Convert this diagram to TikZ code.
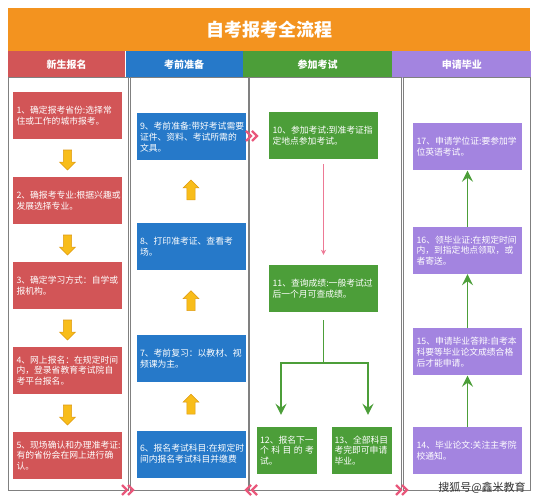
\documentclass[tikz,border=0pt]{standalone}
\usepackage{fontspec}
\setmainfont{Noto Sans CJK SC}
\usetikzlibrary{arrows,arrows.meta,positioning,shapes.arrows,calc}
\definecolor{titleorange}{HTML}{F3931F}
\definecolor{boxred}{HTML}{D25557}
\definecolor{boxblue}{HTML}{2679C9}
\definecolor{boxgreen}{HTML}{4C9E39}
\definecolor{boxpurple}{HTML}{A384E0}
\definecolor{arrowyellow}{HTML}{F8BD1A}
\definecolor{arrowedge}{HTML}{DE9A12}
\definecolor{chevpink}{HTML}{E9577B}
\definecolor{framegray}{HTML}{808080}
\tikzstyle{stepbox}=[rectangle,text=white,align=left,text width=102pt,inner sep=3.5pt,minimum height=47pt,font=\fontsize{8.8}{10.8}\selectfont]
\tikzstyle{smallbox}=[stepbox,text width=54pt,inner sep=3pt]
\tikzstyle{header}=[rectangle,text=white,font=\fontsize{10}{12}\selectfont\bfseries,minimum height=27pt,inner sep=0pt]
\tikzstyle{blockarrow}=[single arrow,fill=arrowyellow,draw=arrowedge,line width=0.6pt,minimum height=20pt,inner sep=3.8pt,single arrow head extend=3.8pt]
\tikzstyle{downarrow}=[blockarrow,shape border rotate=270]
\tikzstyle{uparrow}=[blockarrow,shape border rotate=90]
\tikzstyle{column}=[draw=framegray,line width=1pt]
\tikzstyle{chevron}=[draw=chevpink,line width=2.3pt,line join=miter]
\tikzstyle{greenline}=[draw=boxgreen,line width=1.8pt,-{Stealth[length=11pt,width=11pt,inset=4pt]}]
\tikzstyle{pinkline}=[draw=chevpink!80,line width=0.8pt,-{Stealth[length=5pt,width=5pt,inset=1.5pt]}]

\begin{document}
\begin{tikzpicture}[x=1pt,y=1pt,node distance=85pt]
  \useasboundingbox (0,0) rectangle (537,500);

  % title and headers
  \node[fill=titleorange,text=white,minimum width=522pt,minimum height=43pt,inner sep=0pt,
        anchor=south west,font=\fontsize{18}{20}\selectfont\bfseries] (title) at (8,449) {自考报考全流程};
  \node[header,fill=boxred,minimum width=117pt,anchor=north west] (h1) at (8,449) {新生报名};
  \node[header,fill=boxblue,minimum width=117pt] (h2) [right=0pt of h1] {考前准备};
  \node[header,fill=boxgreen,minimum width=149pt] (h3) [right=0pt of h2] {参加考试};
  \node[header,fill=boxpurple,minimum width=139pt] (h4) [right=0pt of h3] {申请毕业};

  % column frames
  \draw[column] (8,10) rectangle (128,422);
  \draw[column] (130,10) rectangle (248,422);
  \draw[column] (249,10) rectangle (401,422);
  \draw[column] (403,10) rectangle (530,422);

  % new registration
  \node[stepbox,fill=boxred] (s1) at (67.5,384.5) {1、确定报考省份:选择常\\住或工作的城市报考。};
  \node[stepbox,fill=boxred] (s2) [below of=s1] {2、确报考专业:根据兴趣或\\发展选择专业。};
  \node[stepbox,fill=boxred] (s3) [below of=s2] {3、确定学习方式：自学或\\报机构。};
  \node[stepbox,fill=boxred] (s4) [below of=s3] {4、网上报名：在规定时间\\内，登录省教育考试院自\\考平台报名。};
  \node[stepbox,fill=boxred] (s5) [below of=s4] {5、现场确认和办理准考证:\\有的省份会在网上进行确\\认。};
  \node[downarrow] (a1) at ($(s1.south)!0.5!(s2.north)$) {};
  \node[downarrow] (a2) at ($(s2.south)!0.5!(s3.north)$) {};
  \node[downarrow] (a3) at ($(s3.south)!0.5!(s4.north)$) {};
  \node[downarrow] (a4) at ($(s4.south)!0.5!(s5.north)$) {};

  % preparation
  \node[stepbox,fill=boxblue] (s6) at (191,46) {6、报名考试科目:在规定时\\间内报名考试科目并缴费};
  \node[stepbox,fill=boxblue] (s7) at (191,141.5) {7、考前复习：以教材、视\\频课为主。};
  \node[stepbox,fill=boxblue] (s8) at (191,253) {8、打印准考证、查看考\\场。};
  \node[stepbox,fill=boxblue] (s9) at (191,363) {9、考前准备:带好考试需要\\证件、资料、考试所需的\\文具。};
  \node[uparrow] (u1) at ($(s6.north)!0.5!(s7.south)$) {};
  \node[uparrow] (u2) at ($(s7.north)!0.5!(s8.south)$) {};
  \node[uparrow] (u3) at ($(s8.north)!0.5!(s9.south)$) {};

  % exam
  \node[stepbox,fill=boxgreen] (s10) at (323.5,364.5) {10、参加考试:到准考证指\\定地点参加考试。};
  \node[stepbox,fill=boxgreen] (s11) at (323.5,211.5) {11、查询成绩:一般考试过\\后一个月可查成绩。};
  \node[smallbox,fill=boxgreen] (s12) at (287,49.5) {12、报名下一\\个\hfill 科\hfill 目\hfill 的\hfill 考\\试。};
  \node[smallbox,fill=boxgreen] (s13) at (361.5,49.5) {13、全部科目\\考完即可申请\\毕业。};
  \draw[pinkline] ([yshift=-5pt]s10.south) -- ([yshift=10pt]s11.north);
  \coordinate (split) at (323.5,137);
  \draw[draw=boxgreen,line width=1.8pt] ([yshift=-8pt]s11.south) -- (split);
  \draw[greenline] (split) -| ([xshift=-6pt,yshift=12pt]s12.north);
  \draw[greenline] (split) -| ([xshift=6.5pt,yshift=12pt]s13.north);

  % graduation
  \node[stepbox,fill=boxpurple] (s14) at (467.5,49.5) {14、毕业论文:关注主考院\\校通知。};
  \node[stepbox,fill=boxpurple] (s15) at (467.5,148) {15、申请毕业答辩:自考本\\科要等毕业论文成绩合格\\后才能申请。};
  \node[stepbox,fill=boxpurple] (s16) at (467.5,249.5) {16、领毕业证:在规定时间\\内，到指定地点领取，或\\者寄送。};
  \node[stepbox,fill=boxpurple] (s17) at (467.5,353) {17、申请学位证:要参加学\\位英语考试。};
  \draw[greenline] (s14) -- (s15);
  \draw[greenline] (s15) -- (s16);
  \draw[greenline] (s16) -- (s17);

  % chevrons between columns
  \foreach \cx/\cy/\d in {128/10/1,251/10/-1,402/10/1,252/364/1}
    \draw[chevron,shift={(\cx,\cy)},xscale=\d] (-6,5) -- (-1,0) -- (-6,-5) (0,5) -- (5,0) -- (0,-5);

  \node[font=\fontsize{11}{13}\selectfont,text=black!80,inner sep=0pt] (mark) at (482,12) {搜狐号@鑫米教育};
\end{tikzpicture}
\end{document}
